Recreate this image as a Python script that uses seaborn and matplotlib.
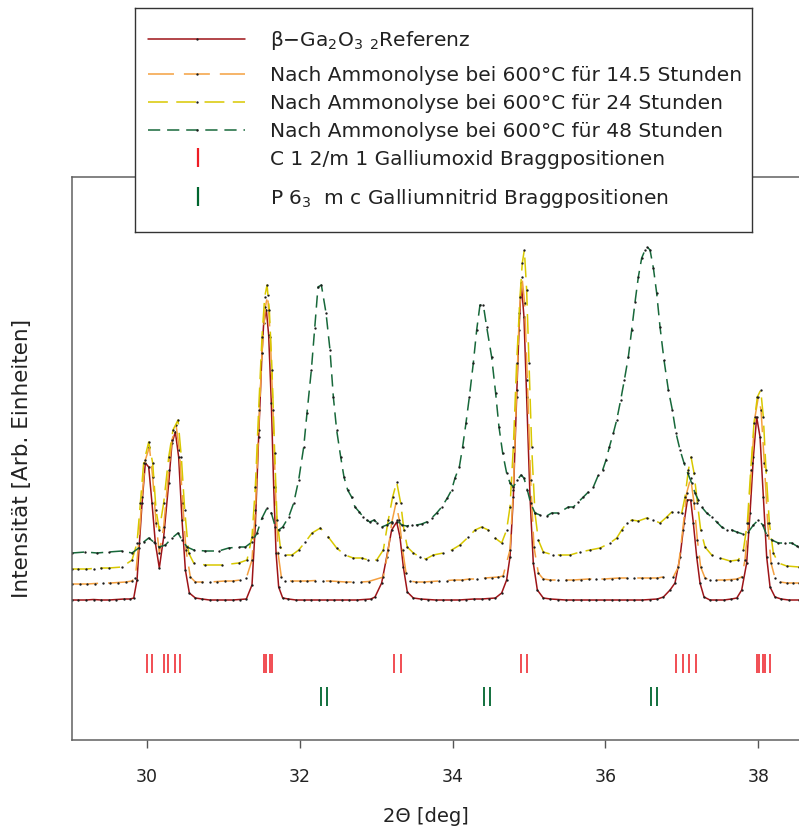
import matplotlib
matplotlib.use("Agg")
import matplotlib.pyplot as plt
import seaborn as sns

# ---------------------------------------------------------------- data
# 2-theta positions (deg) and intensities (arbitrary units, offset stacked)
ref_x = [29.02, 29.10, 29.20, 29.30, 29.40, 29.50, 29.60, 29.70, 29.78, 29.826,
         29.869, 29.935, 29.978, 30.022, 30.065, 30.109, 30.161, 30.218, 30.284, 30.327,
         30.371, 30.414, 30.458, 30.502, 30.554, 30.633, 30.72, 30.82, 30.92, 31.02,
         31.12, 31.22, 31.30, 31.374, 31.418, 31.461, 31.505, 31.527, 31.562, 31.592,
         31.627, 31.658, 31.689, 31.723, 31.776, 31.85, 31.95, 32.05, 32.15, 32.25,
         32.35, 32.45, 32.55, 32.65, 32.75, 32.85, 32.93, 32.984, 33.071, 33.137,
         33.202, 33.268, 33.311, 33.355, 33.407, 33.486, 33.58, 33.68, 33.78, 33.88,
         33.98, 34.08, 34.18, 34.28, 34.38, 34.48, 34.56, 34.642, 34.707, 34.751,
         34.795, 34.838, 34.869, 34.899, 34.934, 34.969, 35.013, 35.056, 35.109, 35.187,
         35.28, 35.38, 35.48, 35.58, 35.68, 35.78, 35.88, 35.98, 36.08, 36.18,
         36.28, 36.38, 36.48, 36.58, 36.68, 36.759, 36.846, 36.911, 36.977, 37.029,
         37.073, 37.116, 37.151, 37.195, 37.238, 37.291, 37.369, 37.45, 37.55, 37.65,
         37.72, 37.784, 37.849, 37.893, 37.937, 37.980, 38.024, 38.067, 38.111, 38.155,
         38.220, 38.30, 38.40, 38.534]
ref_y = [140, 140, 140, 140.5, 140, 140, 140.5, 141, 141, 142,
         160, 237, 277, 273, 237, 197, 172, 203, 257, 297,
         308, 283, 220, 170, 147, 142, 141, 140, 140, 140,
         140, 140.5, 141, 155, 215, 303, 387, 417, 430, 405,
         337, 253, 187, 153, 142, 141, 140, 140, 140, 140,
         140, 140, 140, 140, 140, 140.5, 141, 143, 157, 183,
         210, 218, 203, 173, 148, 142, 141, 140.5, 140, 140,
         140, 140, 140.5, 141, 141, 141.5, 142, 147, 160, 183,
         243, 343, 410, 457, 423, 343, 243, 177, 150, 142,
         141, 140.5, 140, 140, 140, 140, 140, 140, 140, 140,
         140, 140, 140, 140.5, 141, 143, 150, 157, 183, 217,
         240, 240, 217, 183, 157, 143, 140, 140, 140, 141,
         142, 150, 177, 227, 283, 323, 303, 243, 183, 153,
         143, 141, 140, 140]

h14_x = [29.02, 29.12, 29.22, 29.32, 29.42, 29.52, 29.62, 29.72, 29.80, 29.847,
         29.891, 29.935, 29.978, 30.031, 30.074, 30.118, 30.161, 30.218, 30.284, 30.327,
         30.380, 30.423, 30.467, 30.510, 30.567, 30.633, 30.72, 30.82, 30.92, 31.02,
         31.12, 31.22, 31.30, 31.374, 31.418, 31.461, 31.505, 31.549, 31.579, 31.614,
         31.649, 31.680, 31.715, 31.758, 31.810, 31.90, 32.00, 32.10, 32.20, 32.30,
         32.40, 32.50, 32.60, 32.70, 32.80, 32.90, 33.093, 33.158, 33.202, 33.259,
         33.302, 33.346, 33.390, 33.442, 33.52, 33.62, 33.72, 33.82, 33.92, 34.02,
         34.12, 34.22, 34.32, 34.42, 34.52, 34.60, 34.66, 34.751, 34.795, 34.838,
         34.873, 34.908, 34.943, 34.978, 35.021, 35.065, 35.122, 35.187, 35.28, 35.38,
         35.48, 35.58, 35.68, 35.78, 35.88, 35.98, 36.08, 36.18, 36.28, 36.38,
         36.48, 36.58, 36.68, 36.75, 36.889, 36.955, 37.012, 37.064, 37.116, 37.160,
         37.204, 37.247, 37.304, 37.369, 37.45, 37.55, 37.65, 37.72, 37.784, 37.827,
         37.871, 37.915, 37.958, 38.002, 38.037, 38.080, 38.124, 38.168, 38.220, 38.286,
         38.38, 38.46, 38.534]
h14_y = [156, 156, 156, 156.5, 157, 157, 157.5, 158, 159, 162,
         197, 243, 280, 293, 263, 217, 187, 213, 270, 300,
         315, 290, 237, 190, 163, 158, 158, 158, 158.5, 159,
         159, 160, 162, 180, 230, 310, 387, 433, 445, 403,
         330, 253, 187, 163, 159, 159, 159, 159, 159.5, 159,
         159, 158.5, 158, 158, 158, 158.5, 163, 190, 217, 237,
         220, 190, 167, 159, 158, 158, 158.5, 159, 159.5, 160,
         160, 161, 161, 162, 162.5, 163, 164, 190, 250, 350,
         427, 463, 437, 360, 260, 193, 167, 161, 160, 160,
         160, 160, 160.5, 161, 161, 161, 161.5, 162, 162, 162,
         162, 162, 162, 163, 163, 173, 210, 247, 262, 237,
         200, 173, 162, 160, 160, 160, 160.5, 161, 163, 180,
         217, 277, 323, 343, 330, 277, 217, 177, 162, 158,
         157, 157, 157]

h24_x = [29.018, 29.10, 29.20, 29.30, 29.40, 29.50, 29.673, 29.804, 29.869, 29.913,
         29.956, 30.022, 30.074, 30.118, 30.161, 30.218, 30.284, 30.340, 30.406, 30.449,
         30.493, 30.545, 30.611, 30.764, 30.982, 31.200, 31.309, 31.374, 31.418, 31.461,
         31.505, 31.540, 31.571, 31.601, 31.636, 31.671, 31.702, 31.745, 31.810, 31.898,
         31.985, 32.072, 32.160, 32.269, 32.373, 32.482, 32.591, 32.700, 32.809, 32.897,
         33.006, 33.093, 33.158, 33.215, 33.268, 33.320, 33.363, 33.407, 33.486, 33.573,
         33.651, 33.747, 33.878, 33.987, 34.096, 34.206, 34.293, 34.380, 34.467, 34.555,
         34.642, 34.707, 34.751, 34.795, 34.838, 34.882, 34.912, 34.939, 34.969, 35.000,
         35.035, 35.078, 35.122, 35.187, 35.318, 35.406, 35.537, 35.668, 35.799, 35.930,
         36.060, 36.148, 36.213, 36.279, 36.344, 36.431, 36.540, 36.628, 36.715, 36.802,
         36.868, 36.955, 36.999, 37.042, 37.086, 37.121, 37.160, 37.204, 37.247, 37.304,
         37.391, 37.500, 37.631, 37.740, 37.806, 37.858, 37.902, 37.945, 37.989, 38.033,
         38.067, 38.102, 38.146, 38.198, 38.264, 38.373, 38.534]
h24_y = [171, 171, 171, 171.5, 172, 172, 173, 180, 197, 237,
         277, 298, 277, 230, 210, 237, 283, 310, 320, 283,
         230, 187, 177, 175, 175, 177, 180, 203, 253, 330,
         403, 443, 455, 430, 370, 287, 220, 193, 185, 185,
         190, 198, 207, 212, 203, 192, 185, 182, 182, 180,
         180, 190, 220, 243, 258, 237, 210, 193, 187, 183,
         181, 185, 187, 190, 195, 203, 210, 213, 210, 202,
         197, 210, 233, 293, 377, 443, 477, 490, 450, 377,
         293, 227, 200, 188, 185, 185, 185, 188, 190, 192,
         197, 202, 210, 217, 220, 219, 222, 220, 217, 223,
         228, 228, 227, 243, 270, 283, 267, 237, 210, 193,
         185, 182, 179, 180, 190, 217, 270, 317, 343, 350,
         323, 270, 217, 187, 177, 174, 173]

h48_x = [29.018, 29.193, 29.346, 29.498, 29.673, 29.804, 29.891, 29.956, 30.022, 30.087,
         30.161, 30.240, 30.327, 30.406, 30.458, 30.524, 30.611, 30.764, 30.938, 31.069,
         31.200, 31.287, 31.374, 31.440, 31.505, 31.571, 31.627, 31.680, 31.723, 31.776,
         31.854, 31.920, 31.985, 32.051, 32.094, 32.151, 32.195, 32.238, 32.282, 32.343,
         32.395, 32.439, 32.482, 32.535, 32.578, 32.626, 32.678, 32.722, 32.779, 32.831,
         32.875, 32.918, 32.971, 33.014, 33.071, 33.137, 33.202, 33.276, 33.333, 33.398,
         33.464, 33.529, 33.595, 33.660, 33.726, 33.791, 33.857, 33.931, 33.987, 34.031,
         34.088, 34.131, 34.175, 34.219, 34.271, 34.315, 34.358, 34.402, 34.446, 34.511,
         34.563, 34.607, 34.655, 34.707, 34.751, 34.795, 34.847, 34.895, 34.934, 34.978,
         35.021, 35.078, 35.144, 35.231, 35.296, 35.384, 35.515, 35.581, 35.646, 35.711,
         35.777, 35.842, 35.908, 35.964, 36.008, 36.052, 36.104, 36.148, 36.200, 36.248,
         36.300, 36.344, 36.388, 36.431, 36.475, 36.519, 36.549, 36.584, 36.628, 36.671,
         36.715, 36.767, 36.824, 36.876, 36.924, 36.977, 37.029, 37.077, 37.129, 37.173,
         37.217, 37.260, 37.326, 37.391, 37.457, 37.522, 37.588, 37.653, 37.718, 37.797,
         37.871, 37.937, 38.002, 38.059, 38.111, 38.177, 38.264, 38.351, 38.438, 38.504,
         38.534]
h48_y = [187, 188, 187, 188, 189, 187, 192, 198, 202, 198,
         193, 195, 202, 207, 200, 193, 190, 189, 189, 192,
         193, 193, 198, 207, 222, 232, 227, 213, 210, 213,
         223, 237, 260, 293, 327, 370, 412, 453, 455, 427,
         390, 343, 310, 283, 263, 250, 243, 233, 228, 223,
         220, 218, 220, 217, 213, 215, 218, 220, 215, 214,
         215, 215, 216, 218, 222, 227, 233, 242, 250, 262,
         273, 293, 317, 343, 377, 410, 435, 435, 413, 383,
         347, 313, 287, 267, 257, 253, 260, 265, 262, 250,
         237, 227, 225, 224, 227, 227, 233, 233, 238, 243,
         248, 253, 265, 270, 280, 293, 307, 320, 340, 360,
         383, 410, 438, 463, 482, 490, 493, 490, 472, 447,
         413, 380, 350, 330, 307, 290, 277, 267, 257, 247,
         240, 233, 227, 223, 218, 213, 210, 210, 208, 206,
         208, 215, 220, 215, 205, 200, 197, 197, 197, 194,
         193]

# Bragg reflection positions (deg), Cu K-alpha1/alpha2 pairs
oxide_bragg = [30.00, 30.06, 30.22, 30.28, 30.36, 30.43,
               31.53, 31.555, 31.61, 31.635, 33.23, 33.32, 34.89, 34.98,
               36.92, 37.01, 37.09, 37.18, 37.98, 38.005, 38.06, 38.09, 38.16]
nitride_bragg = [32.274, 32.352, 34.417, 34.495, 36.593, 36.679]

series_labels = [r"β−Ga$_2$O$_3$ $_2$Referenz",
                 "Nach Ammonolyse bei 600°C für 14.5 Stunden",
                 "Nach Ammonolyse bei 600°C für 24 Stunden",
                 "Nach Ammonolyse bei 600°C für 48 Stunden"]
bragg_labels = ["C 1 2/m 1 Galliumoxid Braggpositionen",
                r"P 6$_3$  m c Galliumnitrid Braggpositionen"]

# ---------------------------------------------------------------- style
sns.set_theme(style="white")
plt.rcParams["font.family"] = ["DejaVu Sans"]
plt.rcParams["mathtext.fontset"] = "dejavusans"

colors = ["#9e1418", "#f4a040", "#d8c800", "#17683a"]
styles = ["-", (0, (17, 6.5)), (0, (13, 5.5)), (0, (8, 4.5))]
oxide_color = "#ee1d25"
nitride_color = "#00652e"
text_color = "#222222"
dot_color = "#1c1c1c"

W, H = 799, 830
fig = plt.figure(figsize=(W / 100, H / 100), dpi=100)
ax = fig.add_axes([72 / W, (H - 740) / H, (W - 72) / W, 563 / H])

curves = [(ref_x, ref_y), (h14_x, h14_y), (h24_x, h24_y), (h48_x, h48_y)]
for (xs, ys), c, ls in zip(curves, colors, styles):
    sns.lineplot(x=xs, y=ys, ax=ax, color=c, linestyle=ls, lw=1.1,
                 marker="o", ms=1.7, mfc=dot_color, mec="none",
                 estimator=None, sort=False, legend=False)

ax.vlines(oxide_bragg, 67, 86, color=oxide_color, lw=1.1)
ax.vlines(nitride_bragg, 34, 53, color=nitride_color, lw=1.3)

ax.set_xlim(29.018, 38.534)
ax.set_ylim(0, 563)
ax.set_xticks([30, 32, 34, 36, 38])
ax.set_yticks([])
ax.tick_params(axis="x", direction="out", length=6, width=1.0, color="#555555",
               pad=14, labelsize=12.5, labelcolor=text_color, bottom=True)
for side in ["left", "bottom", "top"]:
    ax.spines[side].set_color("#606060")
    ax.spines[side].set_linewidth(1.1)
ax.spines["right"].set_visible(False)

ax.set_xlabel("2Θ [deg]", fontsize=14, color=text_color)
ax.xaxis.set_label_coords((426 - 72) / 727, (740 - 807) / 563)
ax.set_ylabel("Intensität [Arb. Einheiten]", fontsize=15.5, color=text_color)
ax.yaxis.set_label_coords((32 - 72) / 727, 0.5)

# ---------------------------------------------------------------- legend box
# a small overlay axes in pixel units (origin at the box's top-left corner)
bx0, by0, bw, bh = 135, 8, 617, 224
lax = fig.add_axes([bx0 / W, (H - by0 - bh) / H, bw / W, bh / H])
lax.set_xlim(0, bw)
lax.set_ylim(bh, 0)
lax.set_xticks([])
lax.set_yticks([])
lax.set_facecolor("white")
for s in lax.spines.values():
    s.set_visible(True)
    s.set_color("#333333")
    s.set_linewidth(1.0)

row_y = [31, 66, 94, 122, 150, 189]
hx0, hx1, text_x = 13, 110, 135
for y, c, ls, lab in zip(row_y[:4], colors, styles, series_labels):
    lax.plot([hx0, (hx0 + hx1) / 2, hx1], [y, y, y], color=c, linestyle=ls,
             lw=1.1, marker="o", ms=1.7, mfc=dot_color, mec="none",
             markevery=[1])
    lax.text(text_x, y + 7, lab, fontsize=14.5, color=text_color,
             va="baseline", ha="left")
bar_x = 63
for y, c, lab in zip(row_y[4:], [oxide_color, nitride_color], bragg_labels):
    lax.plot([bar_x, bar_x], [y - 10, y + 9], color=c, lw=1.6,
             solid_capstyle="butt")
    lax.text(text_x, y + 7, lab, fontsize=14.5, color=text_color,
             va="baseline", ha="left")

fig.savefig("out.png", dpi=100, facecolor="white")
